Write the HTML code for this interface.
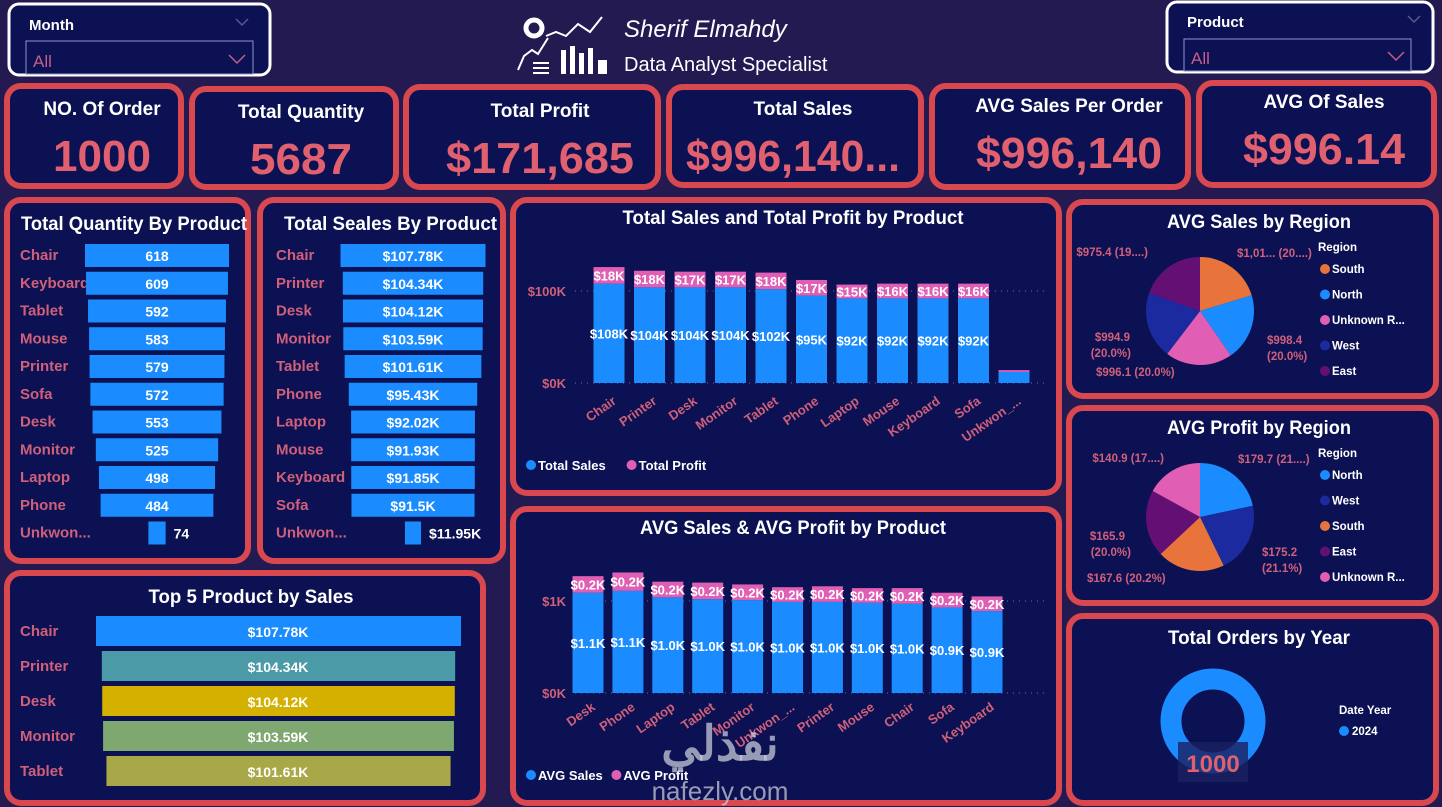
<!DOCTYPE html>
<html><head><meta charset="utf-8">
<style>
html,body{margin:0;padding:0;background:#2a1f58;}
body{width:1442px;height:807px;overflow:hidden;font-family:"Liberation Sans",sans-serif;}
svg{display:block}
text{font-family:"Liberation Sans",sans-serif;}
</style></head>
<body>
<svg id="dash" width="1442" height="807" viewBox="0 0 1442 807" xmlns="http://www.w3.org/2000/svg">
<rect x="0" y="0" width="1442" height="807" fill="#241a52"/>
<g id="panels"></g>
<g id="header">
  <g>
    <rect x="9" y="4" width="261" height="71" rx="10" fill="#0b1152" stroke="#ffffff" stroke-width="3"/>
    <text x="29" y="30" fill="#fff" font-size="15" font-weight="bold">Month</text>
    <path d="M236 19 l6 6 l6 -6" fill="none" stroke="#555b90" stroke-width="1.5"/>
    <rect x="26" y="41" width="227" height="33" fill="none" stroke="#8f95c8" stroke-width="1"/>
    <text x="33" y="67" fill="#c45e86" font-size="17">All</text>
    <path d="M229 55 l8 8 l8 -8" fill="none" stroke="#c45e86" stroke-width="1.5"/>
  </g>
  <g>
    <rect x="1167" y="2" width="266" height="70" rx="10" fill="#0b1152" stroke="#ffffff" stroke-width="3"/>
    <text x="1187" y="27" fill="#fff" font-size="15" font-weight="bold">Product</text>
    <path d="M1408 16 l6 6 l6 -6" fill="none" stroke="#555b90" stroke-width="1.5"/>
    <rect x="1184" y="39" width="227" height="32" fill="none" stroke="#8f95c8" stroke-width="1"/>
    <text x="1191" y="64" fill="#c45e86" font-size="17">All</text>
    <path d="M1388 52 l8 8 l8 -8" fill="none" stroke="#c45e86" stroke-width="1.5"/>
  </g>
  <g fill="none" stroke="#fff" stroke-width="2">
    <circle cx="534" cy="28" r="8" stroke-width="5"/>
    <polyline points="546,36 556,32 566,36 578,24 590,32 602,17"/>
    <polyline points="518,70 524,56 532,50 538,54 548,38"/>
    <rect x="561" y="50" width="5" height="24" fill="#fff" stroke="none"/>
    <rect x="570" y="46" width="5" height="28" fill="#fff" stroke="none"/>
    <rect x="579" y="53" width="5" height="21" fill="#fff" stroke="none"/>
    <rect x="588" y="48" width="5" height="26" fill="#fff" stroke="none"/>
    <rect x="598" y="60" width="9" height="14" fill="#fff" stroke="none"/>
    <line x1="533" y1="63" x2="549" y2="63"/><line x1="533" y1="68" x2="549" y2="68"/><line x1="533" y1="73" x2="549" y2="73"/>
  </g>
  <text x="624" y="37" fill="#fff" font-size="24" font-style="italic" font-family="Liberation Serif, serif">Sherif Elmahdy</text>
  <text x="624" y="71" fill="#fff" font-size="20">Data Analyst Specialist</text>
</g>
<g id="kpis"></g>
<g id="qtyChart"></g>
<g id="salesChart"></g>
<g id="stackChart"></g>
<g id="avgChart"></g>
<g id="top5Chart"></g>
<g id="pie1"></g>
<g id="pie2"></g>
<g id="donut"></g>
<text x="720" y="800" text-anchor="middle" fill="#c8cad8" fill-opacity="0.75" font-size="26">nafezly.com</text>
<text x="720" y="760" text-anchor="middle" fill="#c8cad8" fill-opacity="0.75" font-size="48" font-weight="bold" font-family="Liberation Sans, DejaVu Sans, sans-serif">نفذلي</text>
</svg>
<script>
// ---------- data ----------
const qtyProducts = ["Chair","Keyboard","Tablet","Mouse","Printer","Sofa","Desk","Monitor","Laptop","Phone","Unkwon..."];
const qtyValues = [618,609,592,583,579,572,553,525,498,484,74];
const salesProducts = ["Chair","Printer","Desk","Monitor","Tablet","Phone","Laptop","Mouse","Keyboard","Sofa","Unkwon..."];
const salesValues = [107.78,104.34,104.12,103.59,101.61,95.43,92.02,91.93,91.85,91.5,11.95];
const stackCats = ["Chair","Printer","Desk","Monitor","Tablet","Phone","Laptop","Mouse","Keyboard","Sofa","Unkwon_..."];
const stackSales = [108,104,104,104,102,95,92,92,92,92,12];
const stackProfit = [18,18,17,17,18,17,15,16,16,16,2];
const stackTicks = [0,100];
const avgCats = ["Desk","Phone","Laptop","Tablet","Monitor","Unkwon_...","Printer","Mouse","Chair","Sofa","Keyboard"];
const avgSales = [1.09,1.11,1.04,1.02,1.01,0.99,0.99,0.98,0.97,0.93,0.89];
const avgProfit = [0.18,0.2,0.17,0.18,0.17,0.16,0.17,0.16,0.17,0.16,0.16];
const avgTicks = [0,1];
const top5Cats = ["Chair","Printer","Desk","Monitor","Tablet"];
const top5Values = [107.78,104.34,104.12,103.59,101.61];
const pie1Regions = ["South","North","Unknown R...","West","East"];
const pie1Values = [1010.4,998.4,996.1,994.9,975.4];
const pie2Regions = ["North","West","South","East","Unknown R..."];
const pie2Values = [179.7,175.2,167.6,165.9,140.9];
const donutYears = ["2024"];
const donutValues = [1000];

const NS="http://www.w3.org/2000/svg";
function mk(parent,tag,attrs,txt){const e=document.createElementNS(NS,tag);for(const k in attrs)e.setAttribute(k,attrs[k]);if(txt!==undefined)e.textContent=txt;parent.appendChild(e);return e;}
const RED="#d9474f",BG="#0b1152",BLUE="#1a8cff",PINK="#e05fb5",LBL="#d0607a";

// ---------- panels ----------
const panels=[
 ["kpi-orders-card",4,83,180,106],["kpi-quantity-card",189,86,210,104],["kpi-profit-card",403,84,258,106],
 ["kpi-sales-card",666,84,258,104],["kpi-avg-per-order-card",929,83,262,107],["kpi-avg-sales-card",1196,80,241,108],
 ["qty-panel",4,197,247,367],["sales-panel",257,197,249,367],["stack-panel",510,197,552,299],
 ["pie1-panel",1066,199,373,200],["pie2-panel",1066,405,373,201],
 ["top5-panel",4,570,482,236],["avg-panel",510,506,552,300],["donut-panel",1066,613,373,193]];
const pg=document.getElementById('panels');
panels.forEach(p=>{const r=mk(pg,'rect',{x:p[1]+3,y:p[2]+3,width:p[3]-6,height:p[4]-6,rx:14,fill:BG,stroke:RED,'stroke-width':6});

});

// ---------- KPI ----------
const kpis=[["NO. Of Order","1000",102,4,180],["Total Quantity","5687",301,189,210],["Total Profit","$171,685",540,403,258],
 ["Total Sales","$996,140...",803,666,258],["AVG Sales Per Order","$996,140",1069,929,262],["AVG Of Sales","$996.14",1324,1196,241]];
const kg=document.getElementById('kpis');
kpis.forEach((k,i)=>{const ty=[115,118,117,115,112,108][i];
const t=mk(kg,'text',{x:k[2],y:ty,'text-anchor':'middle',fill:'#fff','font-size':19,'font-weight':'bold'},k[0]);


const v=mk(kg,'text',{x:k[2]-(i==3?10:0),y:ty+56,'text-anchor':'middle',fill:'#e06070','font-size':44,'font-weight':'bold',textLength:(i==0?98:i==1?102:i==2?188:i==3?214:i==4?186:162),lengthAdjust:'spacingAndGlyphs'},k[1]);

});

// ---------- funnel bars ----------
function funnel(gid,title,titleX,titleLen,cats,vals,cx,maxW,fmt){
 const g=document.getElementById(gid);
 const t=mk(g,'text',{x:titleX,y:230,fill:'#fff','font-size':19,'font-weight':'bold',textLength:titleLen,lengthAdjust:'spacingAndGlyphs'},title);
 
 
 const maxV=Math.max(...vals);
 cats.forEach((c,i)=>{const y=255+i*27.75;
  const l=mk(g,'text',{x:gid=='qtyChart'?20:276,y:y+5,fill:LBL,'font-size':15,'font-weight':'bold'},c);
  
  
  const w=vals[i]/maxV*maxW;
  const b=mk(g,'rect',{x:cx-w/2,y:y-11,width:w,height:23,fill:BLUE});
  
  
  const small=w<60;
  const v=mk(g,'text',{x:small?cx+w/2+8:cx,y:y+6,'text-anchor':small?'start':'middle',fill:'#fff','font-size':14,'font-weight':'bold'},fmt(vals[i]));
  
  });
}
funnel('qtyChart','Total Quantity By Product',21,226,qtyProducts,qtyValues,157,144,v=>String(v));
funnel('salesChart','Total Seales By Product',284,213,salesProducts,salesValues,413,145,v=>'$'+v+'K');

// ---------- stacked columns ----------
function stacked(gid,title,titleY,titleLen,cats,s,p,ticks,y0,pxPer,x0,step,fmtS,fmtP,tickFmt,legend,legY,labelOffset){
 const g=document.getElementById(gid);
 const t=mk(g,'text',{x:793,y:titleY,'text-anchor':'middle',fill:'#fff','font-size':19,'font-weight':'bold',textLength:titleLen,lengthAdjust:'spacingAndGlyphs'},title);
 
 
 const Y=v=>y0-v*pxPer;
 ticks.forEach(tv=>{const ln=mk(g,'line',{x1:575,x2:1045,y1:Y(tv),y2:Y(tv),stroke:'#6a6fa0','stroke-dasharray':'1 5'});
  
  
  const tl=mk(g,'text',{x:566,y:Y(tv)+5,'text-anchor':'end',fill:LBL,'font-size':13,'font-weight':'bold'},tickFmt(tv));
  
  });
 cats.forEach((c,i)=>{const cx=x0+i*step,w=31;
  const b=mk(g,'rect',{x:cx-w/2,y:Y(s[i]),width:w,height:Y(0)-Y(s[i]),fill:BLUE});
  
  
  const b2=mk(g,'rect',{x:cx-w/2,y:Y(s[i]+p[i]),width:w,height:Y(s[i])-Y(s[i]+p[i]),fill:PINK});
  
  
  if(s[i]>ticks[1]*0.3){
   const sl=mk(g,'text',{x:cx,y:(Y(s[i])+Y(0))/2+5,'text-anchor':'middle',fill:'#fff','font-size':13,'font-weight':'bold'},fmtS(s[i]));
   
   
   const pl=mk(g,'text',{x:cx,y:(Y(s[i])+Y(s[i]+p[i]))/2+5,'text-anchor':'middle',fill:'#fff','font-size':13,'font-weight':'bold'},fmtP(p[i]));
   
   }
  const xl=mk(g,'text',{x:cx+8,y:y0+labelOffset,'text-anchor':'end',fill:LBL,'font-size':13,'font-weight':'bold',transform:`rotate(-35 ${cx+8} ${y0+labelOffset})`},c);
  
  });
 const lg=mk(g,'g',{});
 
 
 mk(lg,'circle',{cx:531,cy:legY-5,r:5,fill:BLUE});
 mk(lg,'text',{x:538,y:legY,fill:'#fff','font-size':13,'font-weight':'bold'},legend[0]);
 const lx=legend[0].length*7.6+548;
 mk(lg,'circle',{cx:lx,cy:legY-5,r:5,fill:PINK});
 mk(lg,'text',{x:lx+7,y:legY,fill:'#fff','font-size':13,'font-weight':'bold'},legend[1]);
}
stacked('stackChart','Total Sales and Total Profit by Product',224,341,stackCats,stackSales,stackProfit,stackTicks,383,0.92,609,40.5,
 v=>'$'+v+'K',v=>'$'+v+'K',v=>'$'+v+'K',['Total Sales','Total Profit'],470,20);
stacked('avgChart','AVG Sales & AVG Profit by Product',534,306,avgCats,avgSales,avgProfit,avgTicks,693,92,588,39.9,
 v=>'$'+v.toFixed(1)+'K',v=>'$'+v.toFixed(1)+'K',v=>'$'+v+'K',['AVG Sales','AVG Profit'],780,16);

// ---------- top 5 ----------
(function(){const g=document.getElementById('top5Chart');
 const t=mk(g,'text',{x:251,y:603,'text-anchor':'middle',fill:'#fff','font-size':19,'font-weight':'bold',textLength:205,lengthAdjust:'spacingAndGlyphs'},'Top 5 Product by Sales');
 
 
 const cols=[BLUE,'#4a9aa8','#d4b000','#7fa870','#a8a848'];
 const maxV=Math.max(...top5Values);
 top5Cats.forEach((c,i)=>{const y=631+i*35;
  const l=mk(g,'text',{x:20,y:y+5,fill:LBL,'font-size':15,'font-weight':'bold'},c);
  
  
  const w=top5Values[i]/maxV*365;
  const b=mk(g,'rect',{x:278.5-w/2,y:y-15,width:w,height:30,fill:cols[i]});
  
  
  const v=mk(g,'text',{x:278,y:y+6,'text-anchor':'middle',fill:'#fff','font-size':14,'font-weight':'bold'},'$'+top5Values[i]+'K');
  
  });})();

// ---------- pies ----------
function pie(gid,title,ty,cx,cy,r,regions,vals,cols,labels,legY){
 const g=document.getElementById(gid);
 const t=mk(g,'text',{x:1259,y:ty,'text-anchor':'middle',fill:'#fff','font-size':19,'font-weight':'bold',textLength:184,lengthAdjust:'spacingAndGlyphs'},title);
 
 
 const tot=vals.reduce((a,b)=>a+b,0);let a=-Math.PI/2;
 vals.forEach((v,i)=>{const a2=a+v/tot*2*Math.PI;
  const x1=cx+r*Math.cos(a),y1=cy+r*Math.sin(a),x2=cx+r*Math.cos(a2),y2=cy+r*Math.sin(a2);
  const s=mk(g,'path',{d:`M${cx} ${cy} L${x1} ${y1} A${r} ${r} 0 ${a2-a>Math.PI?1:0} 1 ${x2} ${y2} Z`,fill:cols[i]});
  
  
  a=a2;});
 labels.forEach(L=>{const e=mk(g,'text',{x:L[0],y:L[1],'text-anchor':L[3]||'start',fill:LBL,'font-size':11.5,'font-weight':'bold'},L[2]);
  
  });
 const h=mk(g,'text',{x:1318,y:legY,fill:'#fff','font-size':11.5,'font-weight':'bold'},'Region');
 
 
 regions.forEach((rg,i)=>{const y=legY+22+i*25.5;
  mk(g,'circle',{cx:1325,cy:y-4,r:5,fill:cols[i]});
  const e=mk(g,'text',{x:1332,y:y,fill:'#fff','font-size':11.5,'font-weight':'bold'},rg);
  
  });
}
const cS='#e8743b',cN=BLUE,cU=PINK,cW='#1c2aa0',cE='#640f74';
pie('pie1','AVG Sales by Region',228,1200,311,54,pie1Regions,pie1Values,[cS,cN,cU,cW,cE],
 [[1148,256,'$975.4 (19....)','end'],[1237,257,'$1,01... (20....)'],[1130,341,'$994.9','end'],[1131,357,'(20.0%)','end'],[1267,344,'$998.4'],[1267,360,'(20.0%)'],[1096,376,'$996.1 (20.0%)']],
 251);
pie('pie2','AVG Profit by Region',434,1200,517,54,pie2Regions,pie2Values,[cN,cW,cS,cE,cU],
 [[1164,462,'$140.9 (17....)','end'],[1238,463,'$179.7 (21....)'],[1125,540,'$165.9','end'],[1131,556,'(20.0%)','end'],[1262,556,'$175.2'],[1262,572,'(21.1%)'],[1087,582,'$167.6 (20.2%)']],
 457);

// ---------- donut ----------
(function(){const g=document.getElementById('donut');
 const t=mk(g,'text',{x:1259,y:644,'text-anchor':'middle',fill:'#fff','font-size':19,'font-weight':'bold',textLength:182,lengthAdjust:'spacingAndGlyphs'},'Total Orders by Year');
 
 
 const tot=donutValues.reduce((a,b)=>a+b,0);
 donutValues.forEach((v,i)=>{const c=mk(g,'circle',{cx:1213,cy:721,r:42,fill:'none',stroke:BLUE,'stroke-width':21,'stroke-dasharray':`${v/tot*2*Math.PI*42} 1000`});
  
  });
 mk(g,'rect',{x:1178,y:742,width:70,height:40,fill:'#1a2060','fill-opacity':0.8});
 const v=mk(g,'text',{x:1213,y:772,'text-anchor':'middle',fill:'#e06070','font-size':24,'font-weight':'bold'},String(tot));
 
 
 const h=mk(g,'text',{x:1339,y:714,fill:'#fff','font-size':11.5,'font-weight':'bold'},'Date Year');
 
 
 donutYears.forEach((y,i)=>{mk(g,'circle',{cx:1344,cy:731+i*20,r:5,fill:BLUE});
  const e=mk(g,'text',{x:1352,y:735+i*20,fill:'#fff','font-size':11.5,'font-weight':'bold'},y);
  
  });})();
</script>
</body></html>
